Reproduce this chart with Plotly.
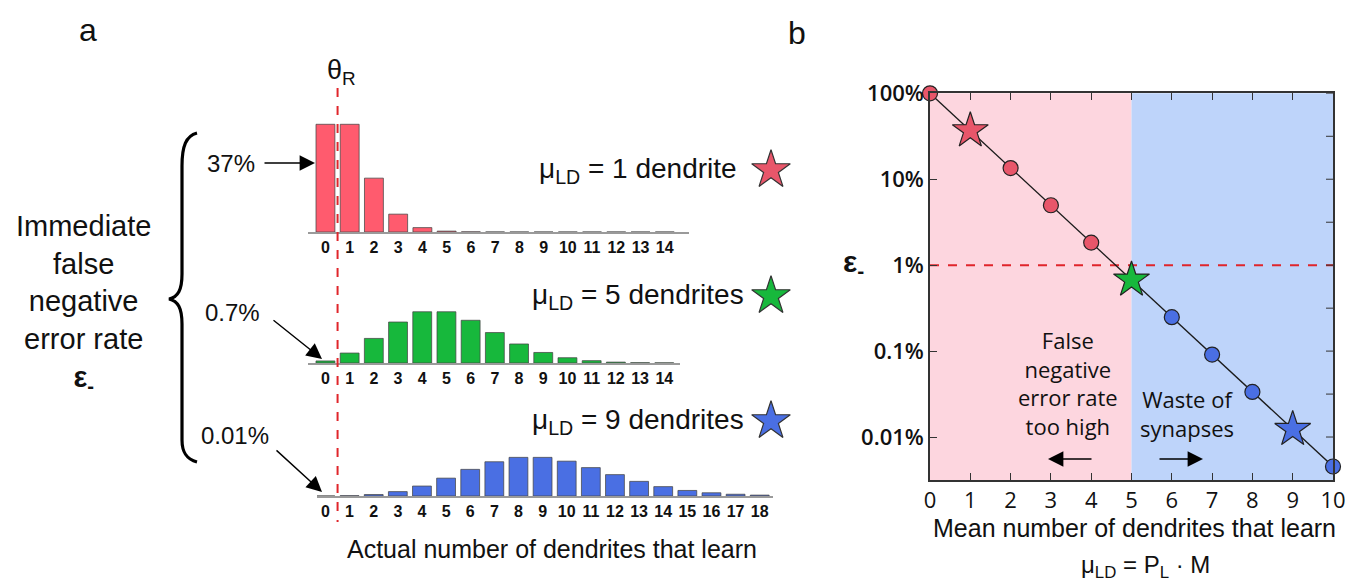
import plotly.graph_objects as go

W, H = 1353, 580
OFF = 8  # page body margin: figure origin sits 8px in from the window corner

# ---------------- data ----------------
counts_1 = list(range(15))
counts_5 = list(range(15))
counts_9 = list(range(19))
prob_mu1 = [0.368, 0.368, 0.184, 0.061, 0.015, 0.003, 0.0005, 0.0001, 0, 0, 0, 0, 0, 0, 0]
prob_mu5 = [0.007, 0.034, 0.084, 0.140, 0.175, 0.175, 0.146, 0.104, 0.065, 0.036,
            0.018, 0.008, 0.003, 0.001, 0.0005]
prob_mu9 = [0.0001, 0.001, 0.005, 0.015, 0.034, 0.061, 0.091, 0.117, 0.132, 0.132,
            0.119, 0.097, 0.073, 0.050, 0.032, 0.019, 0.011, 0.006, 0.003]

mean_dendrites = [0, 1, 2, 3, 4, 5, 6, 7, 8, 9, 10]
error_rate_pct = [100, 36.8, 13.5, 4.98, 1.83, 0.674, 0.248, 0.0912, 0.0335, 0.0123, 0.00454]

y_tickvals = [100, 10, 1, 0.1, 0.01]
y_ticktext = ["100%", "10%", "1%", "0.1%", "0.01%"]
right_tickvals = [100, 31.6, 10, 3.16, 1, 0.316, 0.1, 0.0316, 0.01]
threshold_pct = 1
theta_R = 0.5
boundary_mu = 5

hist_labels = ["μ<sub>LD</sub> = 1 dendrite", "μ<sub>LD</sub> = 5 dendrites", "μ<sub>LD</sub> = 9 dendrites"]
rate_labels = ["37%", "0.7%", "0.01%"]

# ---------------- styles ----------------
RED_BAR = "#FF5B6E"
RED = "#E8566A"
GREEN = "#17B83C"
BLUE = "#4A6FE3"
PINK_BG = "#FDD6DF"
BLUE_BG = "#BED4FA"
DASH_RED = "#E0252B"
FA = "Liberation Sans"
FB = "Open Sans"


def xd(a, b):
    return [(a - OFF) / W, (b - OFF) / W]


def yd(top, bottom):
    return [1 - (bottom - OFF) / H, 1 - (top - OFF) / H]


fig = go.Figure()

# histograms
hists = [
    (counts_1, prob_mu1, RED_BAR, "x", "y"),
    (counts_5, prob_mu5, GREEN, "x2", "y2"),
    (counts_9, prob_mu9, BLUE, "x3", "y3"),
]
for cnt, pr, col, xa, ya in hists:
    fig.add_trace(go.Bar(x=cnt, y=pr, width=0.78,
                         marker=dict(color=col, line=dict(color="rgba(70,70,70,0.75)", width=1)),
                         xaxis=xa, yaxis=ya, showlegend=False, hoverinfo="x+y"))

# panel b curve
symbols = ["star" if m in (1, 5, 9) else "circle" for m in mean_dendrites]
colors = [RED if m < 5 else (GREEN if m == 5 else BLUE) for m in mean_dendrites]
sizes = [27 if s == "star" else 15 for s in symbols]
fig.add_trace(go.Scatter(x=mean_dendrites, y=error_rate_pct, mode="lines+markers",
                         line=dict(color="#1a1a1a", width=1.3),
                         marker=dict(symbol=symbols, color=colors, size=sizes, opacity=1,
                                     line=dict(color="#222", width=1.2)),
                         xaxis="x4", yaxis="y4", cliponaxis=False, showlegend=False))

# star keys for histograms (pixel overlay)
label_y = [170, 296, 421]
fig.add_trace(go.Scatter(x=[771, 771, 771], y=label_y, mode="markers",
                         marker=dict(symbol="star", size=29, color=[RED, GREEN, BLUE], line=dict(color="#333", width=1.2)),
                         xaxis="x6", yaxis="y6", showlegend=False, hoverinfo="skip", cliponaxis=False))

tick_font = dict(family=FA, size=16, color="#111", weight="bold")
hist_axis = dict(showgrid=False, zeroline=False, showline=True, linecolor="#9a9a9a", linewidth=1.5,
                 ticks="", tickmode="array", tickfont=tick_font, fixedrange=True, automargin=False)
hist_y = dict(visible=False, range=[0, 0.41], fixedrange=True, automargin=False)

fig.update_layout(
    template="none",
    width=W, height=H, margin=dict(l=0, r=0, t=0, b=0, autoexpand=False),
    paper_bgcolor="white", plot_bgcolor="rgba(0,0,0,0)",
    font=dict(family=FA, color="#111"),
    xaxis=dict(hist_axis, domain=xd(308, 689), range=[-0.72, 15.0], tickvals=counts_1, anchor="y"),
    yaxis=dict(hist_y, domain=yd(112, 232), anchor="x"),
    xaxis2=dict(hist_axis, domain=xd(308, 680), range=[-0.72, 14.65], tickvals=counts_5, anchor="y2"),
    yaxis2=dict(hist_y, domain=yd(243, 363), anchor="x2"),
    xaxis3=dict(hist_axis, domain=xd(317, 773), range=[-0.35, 18.55], tickvals=counts_9, anchor="y3"),
    yaxis3=dict(hist_y, domain=yd(376, 496), anchor="x3"),
    xaxis4=dict(domain=xd(930, 1333), range=[0, 10], tickvals=mean_dendrites, ticks="inside", ticklen=7,
                tickcolor="#333", showline=True, linecolor="#333", linewidth=1.5, mirror="ticks",
                showgrid=False, zeroline=False, tickfont=dict(family=FB, size=22, color="#111"),
                anchor="y4", fixedrange=True, automargin=False),
    yaxis4=dict(domain=yd(93.3, 480), type="log", range=[-2.5, 2], tickvals=y_tickvals, ticktext=y_ticktext,
                ticks="inside", ticklen=7, tickcolor="#333", showline=True, linecolor="#333", linewidth=1.5,
                mirror=True, showgrid=False, zeroline=False,
                tickfont=dict(family=FB, size=22, color="#111", weight=600), anchor="x4", fixedrange=True,
                automargin=False),
    xaxis6=dict(domain=[0, 1], range=[OFF, W + OFF], visible=False, fixedrange=True, anchor="y6", automargin=False),
    yaxis6=dict(domain=[0, 1], range=[H + OFF, OFF], visible=False, fixedrange=True, anchor="x6", automargin=False),
)

shapes = [
    dict(type="rect", xref="x4", yref="y4 domain", x0=0, x1=boundary_mu, y0=0, y1=1,
         fillcolor=PINK_BG, line=dict(width=0), layer="below"),
    dict(type="rect", xref="x4", yref="y4 domain", x0=boundary_mu, x1=10, y0=0, y1=1,
         fillcolor=BLUE_BG, line=dict(width=0), layer="below"),
    dict(type="line", xref="x4", yref="y4", x0=0, x1=10, y0=threshold_pct, y1=threshold_pct,
         line=dict(color=DASH_RED, width=2, dash="dash"), layer="below"),
    dict(type="line", xref="x", yref="y6", x0=theta_R, x1=theta_R, y0=88, y1=522,
         line=dict(color=DASH_RED, width=2, dash="dash")),
    dict(type="path", xref="x6", yref="y6",
         path="M 197,133 C 186,136 182,146 182,166 L 182,274 C 182,290 178,297 169,299 "
              "C 178,301 182,308 182,324 L 182,440 C 182,452 186,459 197,462",
         line=dict(color="black", width=3.2)),
]
# right-side half-decade ticks
for tv in right_tickvals:
    shapes.append(dict(type="line", xref="x4 domain", yref="y4", x0=1 - 7 / 403, x1=1, y0=tv, y1=tv,
                       line=dict(color="#333", width=1)))
fig.update_layout(shapes=shapes)

ann = []


def txt(x, y, s, size, family=FA, xanchor="center", weight="normal", color="#111"):
    ann.append(dict(x=x, y=y, xref="x6", yref="y6", text=s, showarrow=False, xanchor=xanchor, yanchor="middle",
                    font=dict(family=family, size=size, color=color, weight=weight)))


def arrow(x0, y0, x1, y1):
    ann.append(dict(x=x1, y=y1, ax=x0, ay=y0, xref="x6", yref="y6", axref="x6", ayref="y6", text="",
                    showarrow=True, arrowhead=2, arrowsize=2.2, arrowwidth=1.4, arrowcolor="black", standoff=0))


txt(88, 30, "a", 32)
txt(797, 33, "b", 32)
txt(341, 72, "θ<sub>R</sub>", 27)
for lab, yy in zip(hist_labels, label_y):
    txt(638, yy, lab, 28)
txt(231, 163, rate_labels[0], 24)
txt(232, 312, rate_labels[1], 24)
txt(235, 435, rate_labels[2], 24)
arrow(263, 163, 315, 163)
arrow(272, 319, 322, 359)
arrow(275, 449, 322, 492)
txt(83, 303, "Immediate<br>false<br>negative<br>error rate<br><b>ε<sub>-</sub></b>", 29)
txt(552, 549, "Actual number of dendrites that learn", 25)

txt(853, 263, "<b>ε<sub>-</sub></b>", 30)
txt(1068, 383, "False<br>negative<br>error rate<br>too high", 22, family=FB)
txt(1187, 413, "Waste of<br>synapses", 22, family=FB)
arrow(1093, 459, 1048, 459)
arrow(1158, 459, 1203, 459)
txt(1134, 528, "Mean number of dendrites that learn", 25)
txt(1145, 566, "μ<sub>LD</sub> = P<sub>L</sub> · M", 24)

fig.update_layout(annotations=ann)

fig.write_html("out.html")
